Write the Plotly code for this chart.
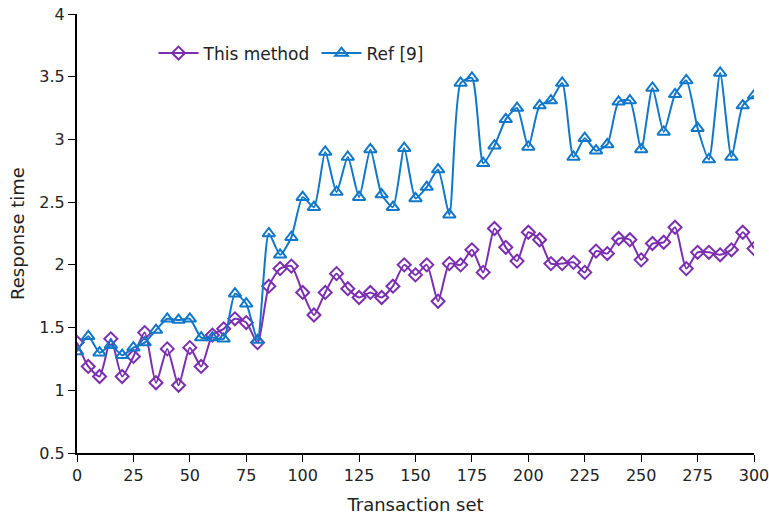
import plotly.graph_objects as go

x_vals = list(range(0, 301, 5))
this_method = [1.38, 1.19, 1.11, 1.41, 1.11, 1.27, 1.46, 1.06, 1.33, 1.04,
               1.34, 1.19, 1.44, 1.49, 1.57, 1.54, 1.38, 1.83, 1.97, 1.99,
               1.78, 1.60, 1.78, 1.93, 1.81, 1.74, 1.78, 1.74, 1.83, 2.00,
               1.92, 2.00, 1.71, 2.01, 2.00, 2.12, 1.94, 2.29, 2.14, 2.03,
               2.26, 2.20, 2.01, 2.01, 2.02, 1.94, 2.11, 2.09, 2.21, 2.20,
               2.04, 2.17, 2.18, 2.30, 1.97, 2.10, 2.10, 2.08, 2.12, 2.26, 2.13]
ref9 = [1.31, 1.43, 1.30, 1.36, 1.28, 1.34, 1.38, 1.48, 1.57, 1.56,
        1.57, 1.42, 1.42, 1.41, 1.77, 1.69, 1.40, 2.25, 2.08, 2.22,
        2.54, 2.46, 2.90, 2.58, 2.86, 2.54, 2.92, 2.56, 2.46, 2.93,
        2.53, 2.62, 2.76, 2.40, 3.45, 3.49, 2.81, 2.95, 3.16, 3.25,
        2.94, 3.27, 3.31, 3.45, 2.86, 3.01, 2.91, 2.96, 3.30, 3.31,
        2.92, 3.41, 3.06, 3.36, 3.47, 3.09, 2.84, 3.53, 2.86, 3.27, 3.35]

x_ticks = list(range(0, 301, 25))
y_ticks = [0.5, 1, 1.5, 2, 2.5, 3, 3.5, 4]
y_tick_text = ["0.5", "1", "1.5", "2", "2.5", "3", "3.5", "4"]

purple = "#7B2FB0"
blue = "#1177C8"

fig = go.Figure()
fig.add_trace(go.Scatter(
    x=x_vals, y=this_method, name="This method", mode="lines+markers",
    line=dict(color=purple, width=2, shape="spline", smoothing=0.6),
    marker=dict(symbol="diamond-open", size=10, color=purple, line=dict(width=2, color=purple)),
))
fig.add_trace(go.Scatter(
    x=x_vals, y=ref9, name="Ref [9]", mode="lines+markers",
    line=dict(color=blue, width=2, shape="spline", smoothing=0.6),
    marker=dict(symbol="triangle-up-open", size=11, color=blue, line=dict(width=2, color=blue)),
))

font_family = "DejaVu Sans, Verdana, sans-serif"
fig.update_layout(
    width=769, height=515,
    margin=dict(l=77, r=15, t=14, b=62),
    paper_bgcolor="white", plot_bgcolor="white",
    font=dict(family=font_family, size=15, color="#222"),
    showlegend=True,
    legend=dict(orientation="h", x=0.113, y=0.91, xanchor="left", yanchor="middle",
                bgcolor="rgba(0,0,0,0)", font=dict(size=17), entrywidth=108, itemwidth=40),
    xaxis=dict(range=[0, 300], tickvals=x_ticks, ticks="outside", ticklen=7,
               tickcolor="black", showline=True, linecolor="black", linewidth=2,
               showgrid=False, zeroline=False, automargin=False, ticklabeloverflow="allow",
               title=dict(text="Transaction set", standoff=14), tickfont=dict(size=16)),
    yaxis=dict(range=[0.5, 4], tickvals=y_ticks, ticktext=y_tick_text,
               ticks="outside", ticklen=7, tickcolor="black", showline=True,
               linecolor="black", linewidth=2, showgrid=False, zeroline=False,
               automargin=False, ticklabeloverflow="allow",
               title=dict(text="Response time", standoff=10), tickfont=dict(size=16)),
)
fig.write_html("out.html", config={"displayModeBar": False},
               post_script="document.body.style.margin='0';")
